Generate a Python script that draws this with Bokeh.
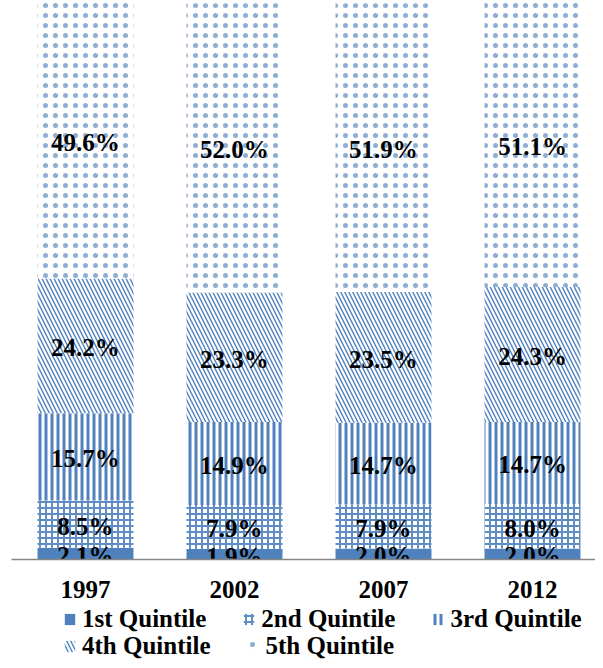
from bokeh.plotting import figure
from bokeh.models import ColumnDataSource, Legend, LegendItem, Range1d, FixedTicker
from bokeh.layouts import column
from bokeh.core.properties import value
from bokeh.embed import file_html
from bokeh.resources import INLINE

years = ["1997", "2002", "2007", "2012"]
q1 = [2.1, 1.9, 2.0, 2.0]
q2 = [8.5, 7.9, 7.9, 8.0]
q3 = [15.7, 14.9, 14.7, 14.7]
q4 = [24.2, 23.3, 23.5, 24.3]
q5 = [49.6, 52.0, 51.9, 51.1]
series_names = ["1st Quintile", "2nd Quintile", "3rd Quintile", "4th Quintile", "5th Quintile"]

BLUE = "#4F81BD"
FONT = "Liberation Serif"

styles = [
    dict(fill_color=BLUE),
    dict(fill_color="white", hatch_pattern="cross", hatch_scale=6, hatch_weight=2, hatch_alpha=0.9),
    dict(fill_color="white", hatch_pattern="vertical_line", hatch_scale=6, hatch_weight=3, hatch_alpha=1.0),
    dict(fill_color="white", hatch_pattern="left_diagonal_line", hatch_scale=8, hatch_weight=1.4, hatch_alpha=1.0),
    dict(fill_color="white", hatch_pattern="dot", hatch_scale=10, hatch_weight=0.3, hatch_alpha=0.65),
]

def style_kw(st):
    kw = dict(fill_color=st["fill_color"], line_color=None)
    if "hatch_pattern" in st:
        kw.update(hatch_pattern=st["hatch_pattern"], hatch_scale=st["hatch_scale"],
                  hatch_weight=st["hatch_weight"], hatch_alpha=st["hatch_alpha"],
                  hatch_color=BLUE)
    return kw

series = [q1, q2, q3, q4, q5]
xs = list(range(1, len(years) + 1))
bottoms = [[0.0] * len(years)]
for s in series:
    bottoms.append([b + v for b, v in zip(bottoms[-1], s)])

p = figure(x_range=Range1d(0.5034, 4.4228), y_range=Range1d(0, 100.5),
           width=595, height=601,
           output_backend="svg", toolbar_location=None,
           min_border_left=11, min_border_right=0, min_border_top=0, min_border_bottom=42,
           y_axis_location=None)

for i, s in enumerate(series):
    src = ColumnDataSource(dict(x=xs, bottom=bottoms[i], top=bottoms[i + 1]))
    p.vbar(x="x", bottom="bottom", top="top", width=0.644, source=src, **style_kw(styles[i]))

for i, s in enumerate(series):
    src = ColumnDataSource(dict(
        x=xs,
        mid=[(a + b) / 2 for a, b in zip(bottoms[i], bottoms[i + 1])],
        label=[f"{v:.1f}%" for v in s]))
    p.text(x="x", y="mid", text="label", source=src, text_align="center",
           text_baseline="middle", y_offset=2, text_color="black",
           text_font=value(FONT), text_font_style="bold", text_font_size="25px")

p.xgrid.visible = False
p.ygrid.visible = False
p.outline_line_color = None
ax = p.xaxis[0]
ax.ticker = FixedTicker(ticks=xs)
ax.major_label_overrides = {x: y for x, y in zip(xs, years)}
ax.major_tick_line_color = None
ax.minor_tick_line_color = None
ax.axis_line_color = "#868686"
ax.axis_line_width = 1.5
ax.major_label_text_font = FONT
ax.major_label_text_font_style = "bold"
ax.major_label_text_font_size = "25px"
ax.major_label_text_color = "black"
ax.major_label_standoff = 15

# legend strip below the chart
pl = figure(x_range=Range1d(0, 1), y_range=Range1d(0, 1), width=595, height=59,
            output_backend="svg", toolbar_location=None,
            min_border_left=0, min_border_right=0, min_border_top=0, min_border_bottom=0,
            x_axis_location=None, y_axis_location=None)
pl.xgrid.visible = False
pl.ygrid.visible = False
pl.outline_line_color = None
proxies = []
for i in range(len(series)):
    proxies.append(pl.vbar(x=[10], bottom=[0], top=[0.5], width=0.5, **style_kw(styles[i])))

legend_kw = dict(orientation="horizontal",
                 label_text_font=FONT, label_text_font_style="bold",
                 label_text_font_size="25px", label_text_color="black",
                 glyph_width=13, glyph_height=14, label_standoff=6,
                 padding=2, margin=0,
                 border_line_color=None, background_fill_alpha=0)
legend1 = Legend(items=[LegendItem(label=series_names[i], renderers=[proxies[i]]) for i in range(3)],
                 location=(52, 27), spacing=36, **legend_kw)
legend2 = Legend(items=[LegendItem(label=series_names[i], renderers=[proxies[i]]) for i in range(3, 5)],
                 location=(52, 0), spacing=36, **legend_kw)
pl.add_layout(legend1)
pl.add_layout(legend2)

layout = column(p, pl, spacing=0)
open("out.html", "w").write(file_html(layout, INLINE))
